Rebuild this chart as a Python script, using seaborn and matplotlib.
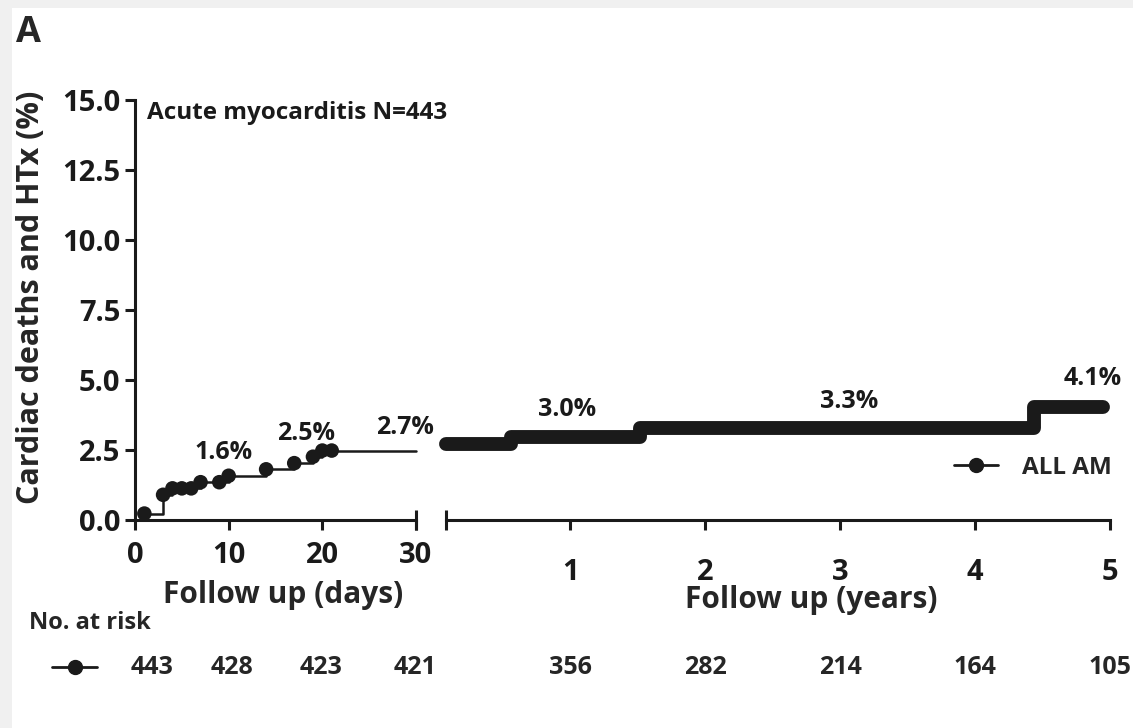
import matplotlib
matplotlib.use('Agg')
import matplotlib.pyplot as plt
import matplotlib.transforms as mtransforms
from matplotlib.lines import Line2D
from matplotlib.patches import Rectangle
import pandas as pd
import seaborn as sns

# Datos: primeros 30 dias
days = [0, 1, 3, 4, 5, 6, 7, 9, 10, 14, 17, 19, 20, 21, 30]
pct_days = [0, 0.23, 0.90, 1.13, 1.13, 1.13, 1.35, 1.35, 1.58, 1.81, 2.03, 2.26, 2.48, 2.48, 2.48]
event_days = [1, 3, 4, 5, 6, 7, 9, 10, 14, 17, 19, 20, 21]
event_pct = [0.23, 0.90, 1.13, 1.13, 1.13, 1.35, 1.35, 1.58, 1.81, 2.03, 2.26, 2.48, 2.48]

# Datos: seguimiento en anios
years = [0.08, 0.56, 1.52, 4.44, 4.95]
pct_years = [2.71, 2.98, 3.29, 4.05, 4.05]

# Etiquetas de porcentaje
lab_days = ['1.6%', '2.5%', '2.7%']
lab_days_x = [9.5, 18.3, 28.8]
lab_days_y = [2.4, 3.1, 3.3]
lab_years = ['3.0%', '3.3%', '4.1%']
lab_years_x = [0.98, 3.07, 4.87]
lab_years_y = [3.95, 4.25, 5.05]

# Numero en riesgo
risk_days = ['443', '428', '423', '421']
risk_days_x = [1.8, 10.4, 19.9, 29.9]
risk_years = ['356', '282', '214', '164', '105']
risk_years_x = [1, 2, 3, 4, 5]

sns.set_style('ticks')
plt.rcParams['font.family'] = ['Open Sans', 'DejaVu Sans']
plt.rcParams['font.weight'] = 'bold'
ink = '#1a1a1a'

W, H = 1133, 728
fig = plt.figure(figsize=(W / 100, H / 100), dpi=100, facecolor='#f0f0f0')
fig.patches.append(Rectangle((12 / W, 0), 1, 1 - 8 / H, transform=fig.transFigure,
                             facecolor='white', edgecolor='none', zorder=-10))

ax1 = fig.add_axes([135 / W, 208 / H, 281 / W, 420 / H])
ax2 = fig.add_axes([446 / W, 208 / H, 664 / W, 420 / H], sharey=ax1)
for ax in (ax1, ax2):
    ax.patch.set_alpha(0)

df_d = pd.DataFrame({'dias': days, 'pct': pct_days})
df_e = pd.DataFrame({'dias': event_days, 'pct': event_pct})
df_y = pd.DataFrame({'anios': years, 'pct': pct_years})

sns.lineplot(data=df_d, x='dias', y='pct', ax=ax1, color=ink, lw=1.8,
             drawstyle='steps-post', clip_on=False, sort=False)
sns.scatterplot(data=df_e, x='dias', y='pct', ax=ax1, color=ink, s=110,
                edgecolor='none', clip_on=False, zorder=3)
sns.lineplot(data=df_y, x='anios', y='pct', ax=ax2, color=ink, lw=10,
             drawstyle='steps-post', clip_on=False, sort=False,
             solid_capstyle='round', solid_joinstyle='round')

ax1.set_xlim(0, 30)
ax1.set_ylim(0, 15)
ax1.set_xticks([0, 10, 20, 30])
ax1.set_yticks([0, 2.5, 5, 7.5, 10, 12.5, 15])
ax1.set_yticklabels(['0.0', '2.5', '5.0', '7.5', '10.0', '12.5', '15.0'])
ax1.set_xlabel('Follow up (days)', fontsize=21.5, fontweight='bold', va='center')
ax1.xaxis.set_label_coords((283 - 135) / 281, -(595 - 520) / 420)
ax1.set_ylabel('Cardiac deaths and HTx (%)', fontsize=22, fontweight='bold')
ax1.yaxis.set_label_coords((46 - 135) / 281, (520 - 297) / 420)
sns.despine(ax=ax1)

ax2.set_xlim(0.08, 5)
ax2.set_xticks([1, 2, 3, 4, 5])
ax2.set_xlabel('Follow up (years)', fontsize=21.5, fontweight='bold', va='center')
ax2.xaxis.set_label_coords((811 - 446) / 664, -(600 - 520) / 420)
sns.despine(ax=ax2, left=True)
ax2.tick_params(axis='y', left=False, labelleft=False)
ax2.set_ylabel('')

for ax in (ax1, ax2):
    for sp in ax.spines.values():
        sp.set_linewidth(2.2)
        sp.set_color(ink)
    ax.tick_params(width=2.2, length=7, labelsize=21, colors=ink)
ax1.tick_params(axis='x', pad=8)
ax2.tick_params(axis='x', pad=20)

# marcas de corte en los extremos del eje x
ax1.xaxis.remove_overlapping_locs = False
ax1.set_xticks([30], minor=True)
ax2.set_xticks([0.08], minor=True)
for ax in (ax1, ax2):
    ax.tick_params(axis='x', which='minor', direction='inout', length=14, width=2.2,
                   color=ink, labelbottom=False)

for t, x, y in zip(lab_days, lab_days_x, lab_days_y):
    ax1.text(x, y, t, fontsize=18, ha='center', va='center', color=ink)
for t, x, y in zip(lab_years, lab_years_x, lab_years_y):
    ax2.text(x, y, t, fontsize=18, ha='center', va='center', color=ink, clip_on=False)

ax1.text(1.3, 14.55, 'Acute myocarditis N=443', fontsize=17.5, ha='left', va='center',
         color=ink)
fig.text(16 / W, 1 - 33 / H, 'A', fontsize=26, fontweight='bold', va='center', ha='left')

# Leyenda
ax2.legend(handles=[Line2D([0], [0], color=ink, lw=2, marker='o', markersize=10)],
           labels=['ALL AM'], loc='center right', bbox_to_anchor=(1.003, 0.124),
           borderaxespad=0, borderpad=0, frameon=False, fontsize=17.5,
           handlelength=1.8, handletextpad=1.0)

# Tabla de numero en riesgo
fig.text(29 / W, 1 - 623 / H, 'No. at risk', fontsize=17, ha='left', va='center')
fig.lines.append(Line2D([52 / W, 97 / W], [1 - 667 / H, 1 - 667 / H], transform=fig.transFigure,
                        color=ink, lw=2))
fig.lines.append(Line2D([75 / W], [1 - 667 / H], transform=fig.transFigure, color=ink,
                        marker='o', markersize=10))
tr1 = mtransforms.blended_transform_factory(ax1.transData, fig.transFigure)
tr2 = mtransforms.blended_transform_factory(ax2.transData, fig.transFigure)
for t, x in zip(risk_days, risk_days_x):
    fig.text(x, 1 - 667 / H, t, transform=tr1, fontsize=18, ha='center', va='center')
for t, x in zip(risk_years, risk_years_x):
    fig.text(x, 1 - 667 / H, t, transform=tr2, fontsize=18, ha='center', va='center')

fig.savefig('out.png', dpi=100, facecolor=fig.get_facecolor())
